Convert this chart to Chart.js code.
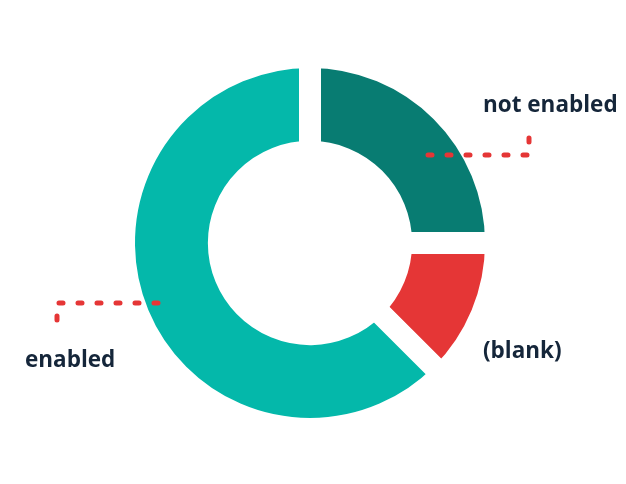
<!DOCTYPE html>
<html>
<head>
<meta charset="utf-8">
<script src="https://cdn.jsdelivr.net/npm/chart.js@4"></script>
<style>
  html, body { margin: 0; padding: 0; background: #fff; }
  canvas { display: block; }
</style>
</head>
<body>
<canvas id="statusDonut" width="626" height="484"></canvas>
<script>
// ─── DATA ───────────────────────────────────────────────
const categories = ['not enabled', '(blank)', 'enabled'];
const counts = [2, 1, 5];
const sliceColors = ['#087c72', '#e53636', '#04b8aa'];

// ─── PLUGIN: labels + dotted leader lines ───────────────
// offsets are measured from the doughnut centre
const calloutPlugin = {
    id: 'callouts',
    afterDraw(chart) {
        const arc = chart.getDatasetMeta(0).data[0];
        if (!arc) return;
        const cx = arc.x, cy = arc.y;
        const ctx = chart.ctx;

        const spots = [
            { text: 0, tx: 173, ty: -131, line: [[118, -88], [219, -88], [219, -115]] },
            { text: 1, tx: 173, ty: 115, line: null },
            { text: 2, tx: -285, ty: 124, line: [[-152, 60], [-253, 60], [-253, 87]] }
        ];

        ctx.save();
        spots.forEach(s => {
            if (s.line) {
                ctx.beginPath();
                ctx.strokeStyle = '#e53636';
                ctx.lineWidth = 5;
                ctx.lineCap = 'round';
                ctx.lineJoin = 'round';
                ctx.setLineDash([4, 15]);
                s.line.forEach((p, i) => {
                    if (i === 0) ctx.moveTo(cx + p[0], cy + p[1]);
                    else ctx.lineTo(cx + p[0], cy + p[1]);
                });
                ctx.stroke();
            }
            ctx.setLineDash([]);
            ctx.fillStyle = '#15263a';
            ctx.font = '700 22.5px "Open Sans"';
            ctx.textAlign = 'left';
            ctx.textBaseline = 'alphabetic';
            ctx.fillText(categories[s.text], cx + s.tx, cy + s.ty);
        });
        ctx.restore();
    }
};

// ─── RENDER ─────────────────────────────────────────────
const ctx = document.getElementById('statusDonut').getContext('2d');
new Chart(ctx, {
    type: 'doughnut',
    data: {
        labels: categories,
        datasets: [{
            data: counts,
            backgroundColor: sliceColors,
            borderColor: '#ffffff',
            borderWidth: 22
        }]
    },
    options: {
        responsive: false,
        animation: false,
        radius: 186,
        cutout: '49%',
        layout: { padding: { left: 0, right: 6, top: 2, bottom: 0 } },
        plugins: {
            legend: { display: false },
            tooltip: { enabled: false }
        }
    },
    plugins: [calloutPlugin]
});
</script>
</body>
</html>
